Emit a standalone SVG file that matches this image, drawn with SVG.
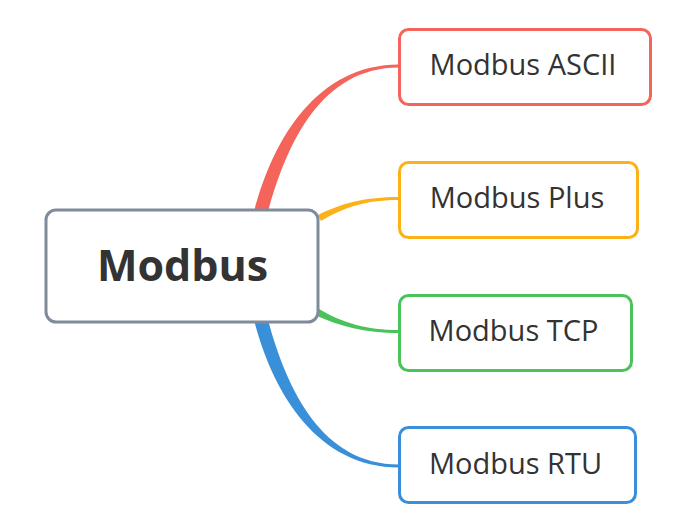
<svg xmlns="http://www.w3.org/2000/svg" width="679" height="527" viewBox="0 0 679 527">
<style>
.box{fill:#fff;stroke-width:3}
.lbl{font-family:"Open Sans","Noto Sans",sans-serif;font-size:29px;fill:#333;text-anchor:middle}
.root{font-family:"Open Sans","Noto Sans",sans-serif;font-size:43px;font-weight:bold;fill:#333;text-anchor:middle}
</style>
<rect width="679" height="527" fill="#fff"/>
<g id="connectors">
<path d="M254,212 C273,138 318,64.5 399,64.5 L399,67.5 C322,67.5 287,142 268,212 Z" fill="#f5645a"/>
<path d="M318,215 C342,203 365,197 399,197 L399,200 C368,200 346,206 321,221 Z" fill="#fbb117"/>
<path d="M319,309 C343,323 366,330 399,330 L399,333 C364,333 340,326 317,316 Z" fill="#4cc25a"/>
<path d="M254,320 C273,394 318,467.5 399,467.5 L399,464.5 C322,464.5 287,390 268,320 Z" fill="#3a8fd9"/>
</g>
<g id="node-root">
<rect class="box" x="46" y="210" width="272" height="112" rx="10" stroke="#7f8b9d"/>
<text class="root" x="182.5" y="281">Modbus</text>
</g>
<g id="node-ascii">
<rect class="box" x="399.5" y="29.5" width="251" height="75" rx="9" stroke="#f5645a"/>
<text class="lbl" x="523" y="75">Modbus ASCII</text>
</g>
<g id="node-plus">
<rect class="box" x="399.5" y="162.5" width="238" height="75" rx="9" stroke="#fbb117"/>
<text class="lbl" x="517" y="208">Modbus Plus</text>
</g>
<g id="node-tcp">
<rect class="box" x="399.5" y="295.5" width="232" height="75" rx="9" stroke="#4cc25a"/>
<text class="lbl" x="513.5" y="341">Modbus TCP</text>
</g>
<g id="node-rtu">
<rect class="box" x="399.5" y="427.5" width="236" height="75" rx="9" stroke="#3a8fd9"/>
<text class="lbl" x="515.5" y="474">Modbus RTU</text>
</g>
</svg>
